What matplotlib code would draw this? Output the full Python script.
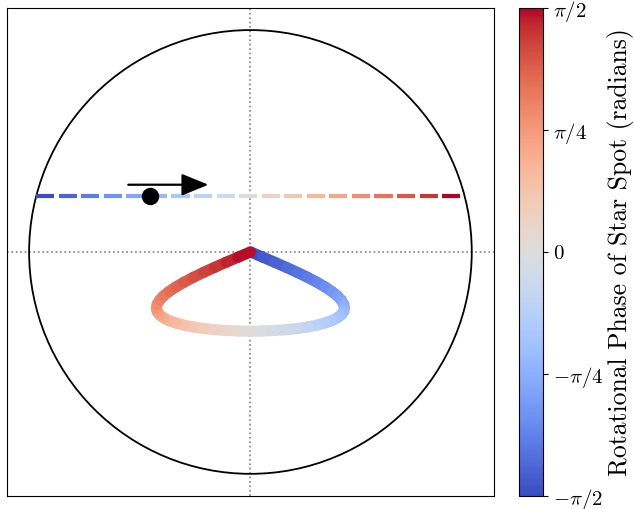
"""Transit chord of a planet across a spotted star, coloured by spot phase."""
import matplotlib
matplotlib.use("Agg")
import matplotlib.pyplot as plt
import numpy as np
from matplotlib.collections import LineCollection
from matplotlib.colors import Normalize
from matplotlib.cm import ScalarMappable

# --- data ------------------------------------------------------------------
impact_b = 0.25                     # planet chord height (stellar radii)
chord_half = 0.968                  # half-length of the chord inside the disk
n_dashes = 19                       # dashes drawn along the chord
planet_x, planet_y = -0.452, 0.253  # planet position
arrow_x0, arrow_x1, arrow_y = -0.552, -0.19, 0.303

# projected spot track, phase -pi/2 .. 0 in 3.75 degree steps (right half);
# the track for phase 0 .. pi/2 is its mirror image
spot_phase_half = [-90, -86.25, -82.5, -78.75, -75, -71.25, -67.5, -63.75,
                   -60, -56.25, -52.5, -48.75, -45, -41.25, -37.5, -33.75,
                   -30, -26.25, -22.5, -18.75, -15, -11.25, -7.5, -3.75, 0]
spot_x_half = [0.0, 0.0555, 0.110, 0.1626, 0.2125, 0.2587, 0.3005, 0.3372,
               0.368, 0.3927, 0.4105, 0.4213, 0.425, 0.4213, 0.4105, 0.3927,
               0.368, 0.3372, 0.3005, 0.2587, 0.2125, 0.1626, 0.110, 0.0555,
               0.0]
spot_y_half = [0.0, -0.0233, -0.0466, -0.0697, -0.0924, -0.1147, -0.1366,
               -0.1579, -0.1785, -0.1983, -0.2173, -0.2354, -0.2524, -0.2684,
               -0.2832, -0.2968, -0.3092, -0.3202, -0.3298, -0.3380, -0.3448,
               -0.3501, -0.3539, -0.3562, -0.357]

cbar_ticks = [-np.pi / 2, -np.pi / 4, 0, np.pi / 4, np.pi / 2]
cbar_labels = [r"$-\pi/2$", r"$-\pi/4$", r"$0$", r"$\pi/4$", r"$\pi/2$"]

plt.rcParams.update({
    "mathtext.fontset": "cm",
    "font.family": "cmr10",
    "axes.unicode_minus": False,
    "font.size": 15,
})

cmap = plt.get_cmap("coolwarm")
norm = Normalize(-np.pi / 2, np.pi / 2)

fig = plt.figure(figsize=(6.34, 5.09), dpi=100)
ax = fig.add_axes([0.011, 0.0255, 0.768, 0.959])
cax = fig.add_axes([0.8186, 0.0255, 0.0379, 0.959])

# stellar disk and guide lines
ax.add_patch(plt.Circle((0, 0), 1.0, fill=False, color="black", lw=1.3))
ax.axvline(0, color="gray", ls=":", lw=1.2, zorder=0)
ax.axhline(0, color="gray", ls=":", lw=1.2, zorder=0)

# dashed, colour-graded chord
period = 2 * chord_half / n_dashes
starts = -chord_half + period * np.arange(n_dashes)
dash_segs = [[(s, impact_b), (s + 0.8 * period, impact_b)] for s in starts]
dash_phase = np.linspace(-np.pi / 2, np.pi / 2, n_dashes)
ax.add_collection(LineCollection(dash_segs, colors=cmap(norm(dash_phase)),
                                 linewidths=3, capstyle="butt", zorder=2))

# spot track (right half, then mirrored left half)
spot_phase = np.deg2rad(spot_phase_half + [-p for p in spot_phase_half[-2::-1]])
spot_x = spot_x_half + [-v for v in spot_x_half[-2::-1]]
spot_y = spot_y_half + spot_y_half[-2::-1]
pts = np.column_stack([spot_x, spot_y])
segs = np.stack([pts[:-1], pts[1:]], axis=1)
mid_phase = 0.5 * (spot_phase[:-1] + spot_phase[1:])
ax.add_collection(LineCollection(segs, colors=cmap(norm(mid_phase)),
                                 linewidths=8, capstyle="round",
                                 joinstyle="round", zorder=3))

# planet and its direction of motion
ax.plot(planet_x, planet_y, "o", color="black", ms=11.5, zorder=4)
ax.annotate("", xy=(arrow_x1, arrow_y), xytext=(arrow_x0, arrow_y),
            arrowprops=dict(arrowstyle="-|>,head_length=1.1,head_width=0.45",
                            color="black", lw=1.6, shrinkA=0, shrinkB=0))

ax.set_xlim(-1.1, 1.1)
ax.set_ylim(-1.1, 1.1)
ax.set_xticks([])
ax.set_yticks([])

cb = fig.colorbar(ScalarMappable(norm=norm, cmap=cmap), cax=cax)
cb.set_ticks(cbar_ticks)
cb.set_ticklabels(cbar_labels)
cb.ax.tick_params(labelsize=15)
cb.set_label("Rotational Phase of Star Spot (radians)", fontsize=18.5,
             labelpad=3)

fig.savefig("out.png", dpi=100)
